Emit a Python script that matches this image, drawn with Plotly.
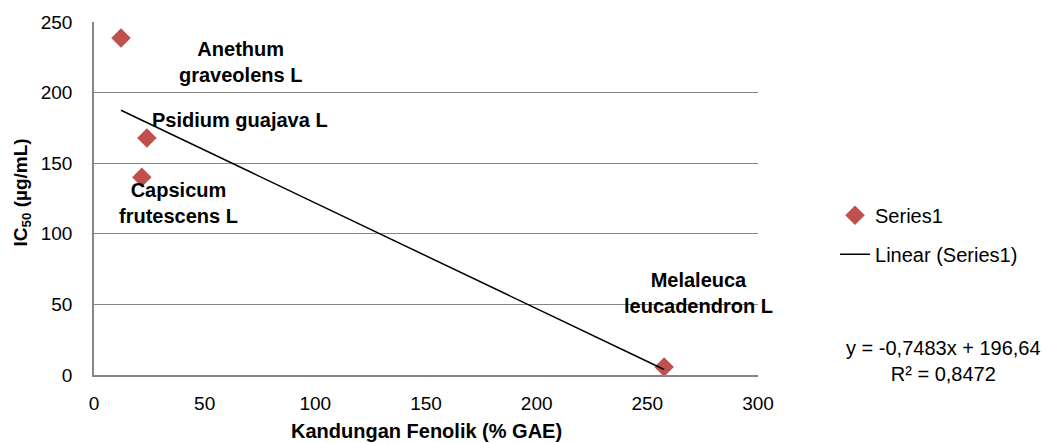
import plotly.graph_objects as go

# data
phenolic = [12.2, 23.9, 21.6, 257.6]          # Kandungan Fenolik (% GAE)
ic50 = [238.7, 167.8, 140.0, 5.7]              # IC50 (µg/mL)
plant_names = ["Anethum<br>graveolens L", "Psidium guajava L",
               "Capsicum<br>frutescens L", "Melaleuca<br>leucadendron L"]
label_x = [66.4, 66.0, 38.4, 273.2]
label_y = [221.7, 180.6, 121.8, 58.0]
slope = -0.7483
intercept = 196.64
r2 = 0.8472
x_ticks = [0, 50, 100, 150, 200, 250, 300]
y_ticks = [0, 50, 100, 150, 200, 250]

FONT = "Liberation Sans, Arial, sans-serif"
fig = go.Figure()

fig.add_trace(go.Scatter(
    x=phenolic, y=ic50, mode="markers", name="Series1",
    marker=dict(symbol="diamond", size=15, color="#C0504D"),
    legendgroup="a", cliponaxis=False))

xmin, xmax = min(phenolic), max(phenolic)
fig.add_trace(go.Scatter(
    x=[xmin, xmax], y=[slope * xmin + intercept, slope * xmax + intercept],
    mode="lines", name="Linear (Series1)",
    line=dict(color="black", width=1.5), legendgroup="b"))

for name, lx, ly in zip(plant_names, label_x, label_y):
    fig.add_annotation(x=lx, y=ly, text=f"<b>{name}</b>", showarrow=False,
                       font=dict(family=FONT, size=20, color="black"),
                       align="center")

eq_text = f"y = {slope:.4f}x + {intercept:.2f}".replace(".", ",") + "<br>" + \
          f"R² = {r2:.4f}".replace(".", ",")
fig.add_annotation(xref="paper", yref="paper", x=1.279, y=0.04,
                   text=eq_text, showarrow=False, align="center",
                   xanchor="center", yanchor="middle",
                   font=dict(family=FONT, size=20, color="black"))

fig.add_annotation(xref="paper", yref="paper", x=0.5, y=-0.159,
                   text="<b>Kandungan Fenolik (% GAE)</b>", showarrow=False,
                   xanchor="center", yanchor="middle",
                   font=dict(family=FONT, size=20, color="black"))

fig.add_annotation(xref="paper", yref="paper", x=-0.108, y=0.518,
                   text="<b>IC<sub>50</sub> (µg/mL)</b>", showarrow=False,
                   textangle=-90, xanchor="center", yanchor="middle",
                   font=dict(family=FONT, size=19, color="black"))

fig.update_layout(
    width=1046, height=443,
    margin=dict(l=94, r=288, t=22, b=68),
    paper_bgcolor="white", plot_bgcolor="white",
    font=dict(family=FONT, size=19, color="black"),
    showlegend=True,
    legend=dict(x=1.116, y=0.397, xanchor="left", yanchor="middle",
                traceorder="grouped", tracegroupgap=10,
                font=dict(family=FONT, size=20, color="black"),
                bgcolor="rgba(0,0,0,0)"),
    xaxis=dict(range=[0, 300], tickvals=x_ticks, showgrid=False,
               showline=True, linecolor="#868686", linewidth=1.5,
               zeroline=False, ticks="", ticklen=0, ticklabelstandoff=10,
               tickfont=dict(family=FONT, size=19, color="black")),
    yaxis=dict(range=[0, 250], tickvals=y_ticks, showgrid=True,
               gridcolor="#868686", gridwidth=1.2,
               showline=True, linecolor="#868686", linewidth=1.5,
               zeroline=False, ticks="", ticklen=0, ticklabelstandoff=16,
               tickfont=dict(family=FONT, size=19, color="black")),
)

fig.write_html("out.html", config={"displayModeBar": False},
               post_script="document.body.style.margin='0';")
